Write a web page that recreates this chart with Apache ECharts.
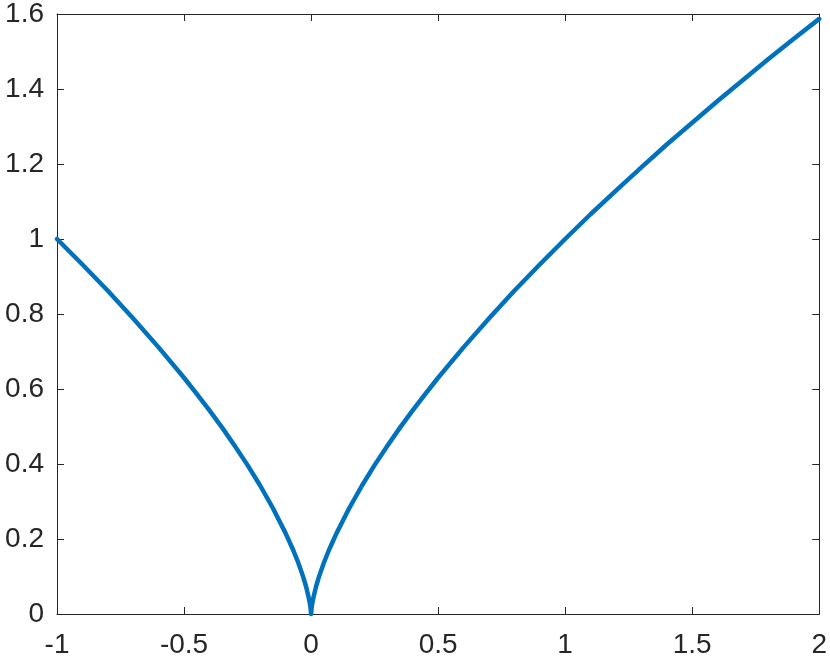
<!DOCTYPE html>
<html>
<head>
<meta charset="utf-8">
<script src="https://cdn.jsdelivr.net/npm/echarts@6/dist/echarts.min.js"></script>
<style>
html,body{margin:0;padding:0;background:#fff;}
#chartBox{width:830px;height:659px;}
</style>
</head>
<body>
<div id="chartBox"></div>
<script>
// values
var xVals=[-1,-0.9,-0.8,-0.7,-0.6,-0.5,-0.45,-0.4,-0.35,-0.3,-0.25,-0.2,-0.15,-0.1,-0.07,-0.05,-0.03,-0.02,-0.01,-0.005,-0.002,0,0.002,0.005,0.01,0.02,0.03,0.05,0.07,0.1,0.15,0.2,0.25,0.3,0.35,0.4,0.45,0.5,0.6,0.7,0.8,0.9,1.0,1.1,1.2,1.3,1.4,1.5,1.6,1.7,1.8,1.9,2.0];
var yVals=[1,0.932,0.862,0.788,0.711,0.630,0.587,0.543,0.497,0.448,0.397,0.342,0.282,0.215,0.170,0.136,0.097,0.074,0.046,0.029,0.016,0,0.016,0.029,0.046,0.074,0.097,0.136,0.170,0.215,0.282,0.342,0.397,0.448,0.497,0.543,0.587,0.630,0.711,0.788,0.862,0.932,1,1.066,1.129,1.191,1.252,1.310,1.368,1.424,1.480,1.534,1.587];
var xTicks={min:-1,max:2,step:0.5};
var yTicks={min:0,max:1.6,step:0.2};

var pts=[];
for(var i=0;i<xVals.length;i++){
	pts.push([xVals[i],yVals[i]]);
}
var axisColor='#262626';
var labelStyle={color:axisColor,fontSize:28,fontFamily:'Liberation Sans, Arial, sans-serif'};
var chartBox=echarts.init(document.getElementById('chartBox'));
var option={
	animation:false,
	grid:{left:57,right:7,top:12,bottom:42,containLabel:false},
	xAxis:[{
		type:'value',position:'bottom',
		min:xTicks.min,max:xTicks.max,interval:xTicks.step,
		axisLine:{show:true,onZero:false,lineStyle:{color:axisColor,width:1}},
		axisTick:{show:true,inside:true,length:7,lineStyle:{color:axisColor}},
		axisLabel:Object.assign({margin:17},labelStyle),
		splitLine:{show:false}
	},{
		type:'value',position:'top',
		min:xTicks.min,max:xTicks.max,interval:xTicks.step,
		axisLine:{show:true,onZero:false,lineStyle:{color:axisColor,width:1}},
		axisTick:{show:true,inside:true,length:7,lineStyle:{color:axisColor}},
		axisLabel:{show:false},
		splitLine:{show:false}
	}],
	yAxis:[{
		type:'value',position:'left',
		min:yTicks.min,max:yTicks.max,interval:yTicks.step,
		axisLine:{show:true,onZero:false,lineStyle:{color:axisColor,width:1}},
		axisTick:{show:true,inside:true,length:7,lineStyle:{color:axisColor}},
		axisLabel:Object.assign({margin:13},labelStyle),
		splitLine:{show:false}
	},{
		type:'value',position:'right',
		min:yTicks.min,max:yTicks.max,interval:yTicks.step,
		axisLine:{show:true,onZero:false,lineStyle:{color:axisColor,width:1}},
		axisTick:{show:true,inside:true,length:7,lineStyle:{color:axisColor}},
		axisLabel:{show:false},
		splitLine:{show:false}
	}],
	series:[{
		type:'line',
		xAxisIndex:0,yAxisIndex:0,
		data:pts,
		showSymbol:false,
		smooth:false,
		clip:false,
		lineStyle:{color:'#0072BD',width:4.5,cap:'round',join:'round'}
	}]
};
chartBox.setOption(option);
</script>
</body>
</html>
